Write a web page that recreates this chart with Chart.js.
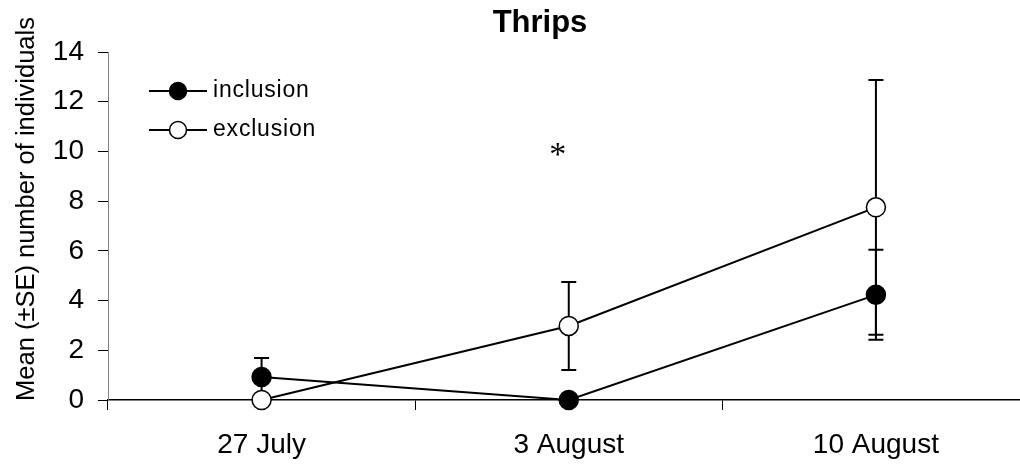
<!DOCTYPE html>
<html>
<head>
<meta charset="utf-8">
<script src="https://cdn.jsdelivr.net/npm/chart.js@4.4.1/dist/chart.umd.min.js"></script>
<style>
  html, body { margin: 0; padding: 0; background: #fff; overflow: hidden; }
  #wrap { width: 1020px; height: 465px; position: relative; }
  canvas { display: block; }
</style>
</head>
<body>
<div id="wrap"><canvas id="chart" width="1020" height="465"></canvas></div>
<script>
const categories = ['27 July', '3 August', '10 August'];
const inclusionMean = [0.93, 0, 4.23];
const inclusionSE = [0.76, 0, 1.81];
const exclusionMean = [0, 2.98, 7.75];
const exclusionSE = [0, 1.77, 5.12];
const yTicks = [0, 2, 4, 6, 8, 10, 12, 14];
// significance marks: category + y value
const marks = [{ category: '3 August', value: 10.1, text: '*' }];

const FONT = "'Liberation Sans', Arial, sans-serif";
const AXIS_END = 1029.5; // x axis runs past the right edge of the picture

// error bars, title, y title, legend and asterisk
const extras = {
  id: 'extras',
  afterLayout(chart) {
    const x = chart.scales.x;
    chart.chartArea.right = AXIS_END;
    chart.chartArea.width = AXIS_END - chart.chartArea.left;
    x.right = AXIS_END;
    x.width = AXIS_END - x.left;
    x.configure();
    x._gridLineItems = null;
    x._labelItems = null;
  },
  beforeDatasetsDraw(chart) {
    const { ctx, scales: { x, y } } = chart;
    ctx.save();
    ctx.strokeStyle = '#000';
    ctx.lineWidth = 2;
    chart.data.datasets.forEach(ds => {
      ds.data.forEach((v, i) => {
        const se = ds.se[i];
        if (!se) return;
        const px = x.getPixelForValue(i);
        const top = y.getPixelForValue(v + se);
        const bot = y.getPixelForValue(v - se);
        ctx.beginPath();
        ctx.moveTo(px, top); ctx.lineTo(px, bot);
        ctx.moveTo(px - 7.5, top); ctx.lineTo(px + 7.5, top);
        ctx.moveTo(px - 7.5, bot); ctx.lineTo(px + 7.5, bot);
        ctx.stroke();
      });
    });
    ctx.restore();
  },
  afterDraw(chart) {
    const { ctx, scales: { x, y } } = chart;
    ctx.save();
    ctx.fillStyle = '#000';

    // title
    ctx.font = 'bold 31px ' + FONT;
    ctx.textAlign = 'center';
    ctx.textBaseline = 'alphabetic';
    ctx.fillText('Thrips', 540, 32);

    // y axis title
    ctx.save();
    ctx.translate(34, 209);
    ctx.rotate(-Math.PI / 2);
    ctx.font = '25.5px ' + FONT;
    ctx.fillText('Mean (\u00b1SE) number of individuals', 0, 0);
    ctx.restore();

    // legend
    chart.data.datasets.forEach((ds, i) => {
      const ly = 91 + i * 39;
      ctx.strokeStyle = '#000';
      ctx.lineWidth = 2;
      ctx.beginPath();
      ctx.moveTo(149, ly); ctx.lineTo(207, ly);
      ctx.stroke();
      ctx.beginPath();
      ctx.arc(178, ly, 8.5, 0, Math.PI * 2);
      ctx.fillStyle = ds.pointBackgroundColor;
      ctx.fill();
      ctx.lineWidth = 1.5;
      ctx.stroke();
      ctx.fillStyle = '#000';
      ctx.font = '23px ' + FONT;
      ctx.letterSpacing = '0.8px';
      ctx.textAlign = 'left';
      ctx.textBaseline = 'middle';
      ctx.fillText(ds.label, 213, ly);
      ctx.letterSpacing = '0px';
    });

    // significance marks
    ctx.font = "34px 'Liberation Serif', 'Times New Roman', serif";
    ctx.textAlign = 'center';
    ctx.textBaseline = 'alphabetic';
    marks.forEach(m => {
      const px = x.getPixelForValue(categories.indexOf(m.category)) - 11;
      const py = y.getPixelForValue(m.value);
      ctx.fillText(m.text, px, py + 16);
    });
    ctx.restore();
  }
};

new Chart(document.getElementById('chart'), {
  type: 'line',
  data: {
    labels: categories,
    datasets: [
      {
        label: 'inclusion',
        data: inclusionMean,
        se: inclusionSE,
        borderColor: '#000',
        borderWidth: 2,
        pointRadius: 9.5,
        pointBorderWidth: 1.5,
        pointBorderColor: '#000',
        pointBackgroundColor: '#000',
        tension: 0,
        clip: false
      },
      {
        label: 'exclusion',
        data: exclusionMean,
        se: exclusionSE,
        borderColor: '#000',
        borderWidth: 2,
        pointRadius: 9.5,
        pointBorderWidth: 1.5,
        pointBorderColor: '#000',
        pointBackgroundColor: '#fff',
        tension: 0,
        clip: false
      }
    ]
  },
  options: {
    responsive: false,
    animation: false,
    layout: { padding: { top: 52, right: 0, left: 0, bottom: 0 } },
    plugins: {
      legend: { display: false },
      title: { display: false },
      tooltip: { enabled: false }
    },
    scales: {
      x: {
        offset: true,
        afterFit: s => { s.height = 65; s.paddingLeft = 0; s.paddingRight = 0; },
        grid: { offset: true, drawOnChartArea: false, tickLength: 10, color: '#000', lineWidth: 1 },
        border: { color: '#000', width: 1.5 },
        ticks: { color: '#000', font: { family: FONT, size: 28 }, padding: 18 }
      },
      y: {
        min: 0,
        max: 14,
        afterFit: s => { s.width = 108; s.paddingTop = 0; s.paddingBottom = 0; },
        afterBuildTicks: s => { s.ticks = yTicks.map(v => ({ value: v })); },
        grid: { drawOnChartArea: false, tickLength: 10, color: '#000', lineWidth: 1 },
        border: { color: '#808080', width: 1 },
        ticks: { color: '#000', font: { family: FONT, size: 28 }, padding: 14 }
      }
    }
  },
  plugins: [extras]
});
</script>
</body>
</html>
